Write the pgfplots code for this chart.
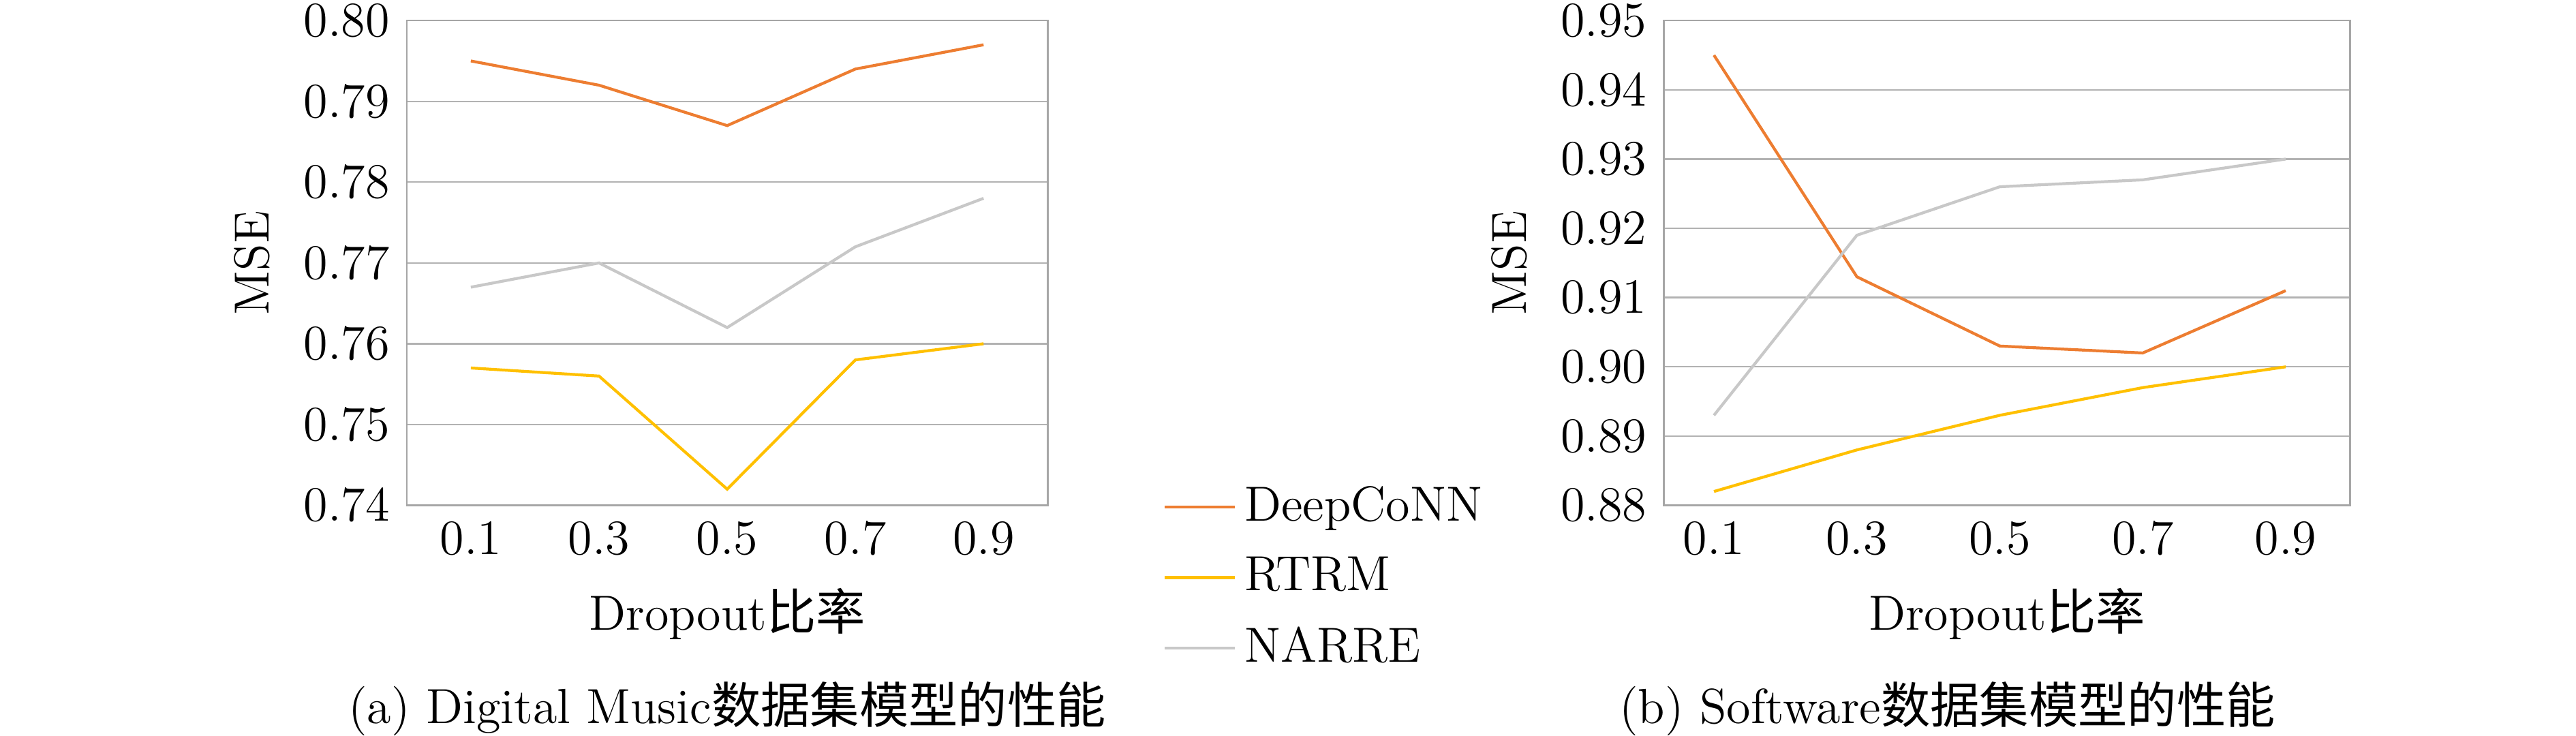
\documentclass[border=0pt]{standalone}
\usepackage{pgfplots}
\pgfplotsset{compat=1.18}
\usepackage{fontspec}
\newfontfamily\cjk{Noto Sans CJK SC}
\definecolor{c1}{RGB}{237,125,49}
\definecolor{c2}{RGB}{255,192,0}
\definecolor{c3}{RGB}{200,200,200}
\begin{document}
\fontsize{12}{14}\selectfont
\begin{tikzpicture}
\path[use as bounding box] (0,0) rectangle (627pt,179pt);
\pgfplotsset{every axis/.append style={scale only axis, anchor=south west, height=118pt,
 axis line style={gray!70}, tick style={draw=none}, ymajorgrids, grid style={gray!60},
 xtick={0.1,0.3,0.5,0.7,0.9}, xticklabel style={/pgf/number format/fixed,/pgf/number format/precision=1},
 yticklabel style={/pgf/number format/fixed,/pgf/number format/fixed zerofill,/pgf/number format/precision=2},
 xlabel={Dropout{\cjk 比率}}, ylabel={MSE}, every axis plot/.append style={line width=0.7pt},
 font=\fontsize{12}{14}\selectfont}}
\begin{axis}[at={(99pt,56pt)}, width=156pt, xmin=0, xmax=1.0, ymin=0.74, ymax=0.80, ytick={0.74,0.75,...,0.801},
 legend style={at={(1.16,0.075)}, anchor=north west, draw=none, row sep=3pt, font=\fontsize{12}{14}\selectfont},
 legend cell align=left]
\addplot[c1] coordinates {(0.1,0.795)(0.3,0.792)(0.5,0.787)(0.7,0.794)(0.9,0.797)};
\addplot[c2] coordinates {(0.1,0.757)(0.3,0.756)(0.5,0.742)(0.7,0.758)(0.9,0.760)};
\addplot[c3] coordinates {(0.1,0.767)(0.3,0.770)(0.5,0.762)(0.7,0.772)(0.9,0.778)};
\legend{DeepCoNN,RTRM,NARRE}
\end{axis}
\begin{axis}[at={(405pt,56pt)}, width=167pt, xmin=0.03, xmax=0.99, ymin=0.88, ymax=0.95, ytick={0.88,0.89,...,0.951}]
\addplot[c1] coordinates {(0.1,0.945)(0.3,0.913)(0.5,0.903)(0.7,0.902)(0.9,0.911)};
\addplot[c2] coordinates {(0.1,0.882)(0.3,0.888)(0.5,0.893)(0.7,0.897)(0.9,0.900)};
\addplot[c3] coordinates {(0.1,0.893)(0.3,0.919)(0.5,0.926)(0.7,0.927)(0.9,0.930)};
\end{axis}
\node at (177pt,6.5pt) {(a) Digital Music{\cjk 数据集模型的性能}};
\node at (474pt,6.5pt) {(b) Software{\cjk 数据集模型的性能}};
\end{tikzpicture}
\end{document}
